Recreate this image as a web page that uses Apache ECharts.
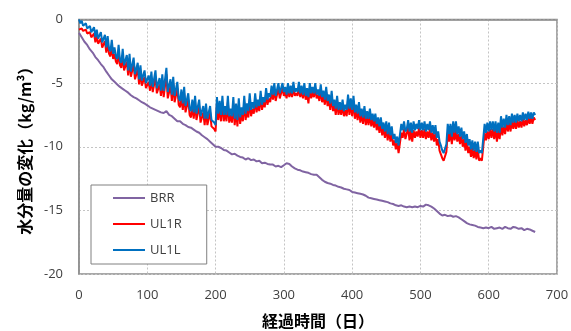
<!DOCTYPE html>
<html>
<head>
<meta charset="utf-8">
<script src="https://cdn.jsdelivr.net/npm/echarts@6/dist/echarts.min.js"></script>
<style>
  html, body { margin: 0; padding: 0; background: #fff; }
  #chart { width: 571px; height: 331px; }
</style>
</head>
<body>
<div id="chart"></div>
<script>
// Record spacing, in days
const brrStepDays = 4;
const ulStepDays = 2;

const seriesNames = ['BRR', 'UL1R', 'UL1L'];

// Change of moisture content (kg/m3) for BRR, one value every 4 days from day 0
const brr = [
  -1.05, -1.4, -1.75, -2.0, -2.35, -2.6, -2.95, -3.2, -3.5, -3.75,
  -4.1, -4.4, -4.7, -4.9, -5.1, -5.3, -5.45, -5.6, -5.75, -5.95,
  -6.1, -6.2, -6.35, -6.5, -6.6, -6.75, -6.9, -7.0, -7.1, -7.2,
  -7.3, -7.35, -7.2, -7.5, -7.6, -7.8, -8.0, -8.0, -8.2, -8.3,
  -8.45, -8.5, -8.65, -8.8, -8.9, -9.1, -9.25, -9.4, -9.6, -9.8,
  -10.0, -10.0, -10.1, -10.25, -10.3, -10.45, -10.6, -10.55, -10.7, -10.8,
  -10.85, -11.0, -10.9, -11.05, -11.0, -11.15, -11.1, -11.3, -11.25, -11.35,
  -11.4, -11.4, -11.55, -11.5, -11.6, -11.45, -11.3, -11.35, -11.55, -11.7,
  -11.8, -11.85, -11.95, -12.0, -12.05, -12.15, -12.2, -12.2, -12.4, -12.6,
  -12.75, -12.85, -12.9, -13.0, -13.05, -13.15, -13.2, -13.3, -13.35, -13.4,
  -13.55, -13.6, -13.65, -13.7, -13.75, -13.85, -14.0, -14.05, -14.1, -14.15,
  -14.2, -14.25, -14.3, -14.35, -14.45, -14.5, -14.6, -14.65, -14.6, -14.7,
  -14.75, -14.7, -14.75, -14.7, -14.75, -14.65, -14.7, -14.55, -14.6, -14.7,
  -14.85, -15.05, -15.25, -15.4, -15.35, -15.45, -15.4, -15.5, -15.45, -15.55,
  -15.7, -15.85, -16.0, -16.1, -16.15, -16.2, -16.3, -16.35, -16.4, -16.35,
  -16.4, -16.3, -16.45, -16.4, -16.35, -16.45, -16.3, -16.4, -16.45, -16.3,
  -16.35, -16.45, -16.4, -16.55, -16.45, -16.5, -16.6, -16.7
];

// UL1R, one value every 2 days from day 0 (four values per row = 8 days)
const ul1r = [
  -0.8, -0.8, -0.7, -0.9,   -1.0, -0.8, -1.1, -1.2,   -1.0, -1.4, -1.5, -1.1,
  -1.8, -1.3, -1.9, -2.0,   -1.5, -2.2, -2.3, -1.7,   -2.6, -1.8, -2.7, -2.9,
  -2.1, -3.1, -2.7, -3.3,   -3.5, -2.5, -3.6, -3.8,   -2.8, -4.0, -4.1, -3.3,
  -4.4, -3.2, -4.5, -4.6,   -3.5, -4.7, -4.8, -3.9,   -5.1, -4.1, -5.2, -5.3,
  -4.5, -5.4, -5.5, -4.9,   -5.6, -4.6, -5.7, -5.8,   -4.5, -5.8, -5.9, -5.1,
  -6.0, -4.8, -6.1, -6.2,   -4.3, -6.2, -6.3, -5.2,   -6.4, -5.0, -6.5, -6.6,
  -5.4, -6.7, -6.9, -6.0,   -7.1, -5.8, -7.3, -7.4,   -6.3, -7.5, -7.7, -6.8,
  -7.8, -6.5, -7.9, -8.0,   -6.8, -8.1, -8.2, -7.3,   -8.3, -7.1, -8.3, -8.4,
  -7.3, -8.4, -8.5, -8.6,   -8.8, -6.6, -7.9, -6.9,   -8.0, -6.5, -8.0, -7.3,
  -8.0, -6.5, -8.1, -7.5,   -8.1, -6.6, -8.3, -7.1,   -8.4, -6.7, -8.2, -7.4,
  -8.0, -6.5, -7.9, -7.1,   -7.7, -6.3, -7.6, -7.0,   -7.4, -6.2, -7.3, -6.7,
  -7.2, -6.0, -7.1, -6.5,   -6.9, -5.8, -6.7, -6.2,   -6.5, -5.6, -6.3, -5.5,
  -6.4, -6.5, -5.4, -6.2,   -6.1, -5.4, -6.0, -5.7,   -6.2, -5.4, -6.1, -5.6,
  -6.1, -5.3, -6.0, -5.8,   -6.0, -5.3, -6.1, -5.6,   -6.2, -5.4, -6.3, -5.8,
  -6.6, -5.4, -6.2, -5.7,   -6.1, -5.4, -6.2, -5.9,   -6.4, -5.5, -6.5, -6.0,
  -6.7, -5.7, -6.8, -6.3,   -7.1, -6.0, -7.2, -6.7,   -7.5, -6.4, -7.5, -6.9,
  -7.5, -6.7, -7.6, -7.1,   -7.6, -6.3, -7.5, -6.6,   -7.6, -6.4, -7.8, -7.1,
  -7.9, -6.9, -8.1, -7.4,   -8.2, -7.2, -8.3, -7.6,   -8.3, -7.4, -8.4, -7.8,
  -8.5, -7.8, -8.7, -8.1,   -8.9, -8.1, -9.1, -8.5,   -9.3, -8.5, -9.5, -8.6,
  -9.6, -8.9, -9.9, -9.5,   -10.2, -9.7, -10.5, -10.6, -8.9, -9.3, -8.6, -9.4,
  -9.3, -8.5, -9.5, -8.7,   -9.6, -8.7, -9.3, -8.8,   -9.2, -8.5, -9.3, -8.7,
  -9.3, -8.6, -9.4, -8.8,   -9.3, -8.6, -9.5, -8.9,   -9.6, -8.9, -9.9, -9.4,
  -10.3, -10.6, -10.9, -11.1, -11.2, -10.4, -8.9, -9.6, -8.8, -9.8, -8.7, -9.5,
  -8.7, -9.6, -9.0, -9.8,   -9.1, -10.0, -9.4, -10.3, -9.6, -10.5, -10.0, -10.8,
  -10.1, -10.9, -10.2, -11.0, -10.2, -11.1, -10.9, -11.1, -11.0, -8.9, -9.5, -8.8,
  -9.4, -8.6, -9.3, -8.6,   -9.4, -8.6, -9.6, -8.7,   -9.4, -8.2, -9.1, -8.4,
  -9.0, -8.0, -8.8, -8.1,   -8.8, -7.9, -8.6, -8.0,   -8.6, -7.9, -8.5, -8.0,
  -8.5, -7.8, -8.4, -7.9,   -8.3, -7.7, -8.2, -7.7,   -8.2, -7.7, -7.9
];

// UL1L, one value every 2 days from day 0 (four values per row = 8 days)
const ul1l = [
  0.0, -0.3, -0.1, -0.5,    -0.6, -0.3, -0.7, -0.8,   -0.5, -1.0, -1.1, -0.6,
  -1.4, -0.8, -1.5, -1.6,   -1.0, -1.8, -1.9, -1.2,   -2.2, -1.3, -2.3, -2.5,
  -1.6, -2.7, -2.2, -2.9,   -3.1, -2.0, -3.2, -3.4,   -2.3, -3.6, -3.7, -2.8,
  -4.0, -2.7, -4.1, -4.2,   -3.0, -4.3, -4.4, -3.4,   -4.7, -3.6, -4.8, -4.9,
  -4.0, -5.0, -5.1, -4.4,   -5.2, -4.1, -5.3, -5.3,   -4.0, -5.4, -5.5, -4.6,
  -5.6, -4.3, -5.6, -5.7,   -3.8, -5.7, -5.8, -4.7,   -5.9, -4.5, -6.0, -6.1,
  -4.9, -6.2, -6.4, -5.5,   -6.6, -5.3, -6.8, -6.9,   -5.8, -7.0, -7.2, -6.3,
  -7.3, -6.0, -7.4, -7.5,   -6.3, -7.6, -7.7, -6.8,   -7.8, -6.6, -7.8, -7.9,
  -6.8, -7.9, -8.0, -8.1,   -8.3, -6.1, -7.4, -6.4,   -7.5, -6.0, -7.5, -6.8,
  -7.5, -6.0, -7.6, -7.0,   -7.6, -6.1, -7.8, -6.6,   -7.9, -6.2, -7.7, -6.9,
  -7.5, -6.0, -7.4, -6.6,   -7.2, -5.8, -7.1, -6.5,   -7.0, -5.8, -6.9, -6.3,
  -6.8, -5.6, -6.7, -6.1,   -6.5, -5.4, -6.3, -5.8,   -6.1, -5.2, -5.9, -5.0,
  -6.0, -6.1, -5.0, -5.8,   -5.8, -5.0, -5.7, -5.3,   -5.9, -5.0, -5.8, -5.2,
  -5.8, -4.9, -5.7, -5.4,   -5.7, -4.9, -5.8, -5.2,   -5.9, -5.0, -6.0, -5.4,
  -6.1, -5.0, -5.8, -5.3,   -5.8, -5.0, -5.9, -5.5,   -6.0, -5.1, -6.1, -5.6,
  -6.3, -5.3, -6.4, -5.9,   -6.6, -5.6, -6.8, -6.3,   -7.0, -6.0, -7.1, -6.5,
  -7.1, -6.3, -7.2, -6.7,   -7.1, -5.9, -7.0, -6.2,   -7.1, -6.0, -7.3, -6.7,
  -7.4, -6.5, -7.6, -7.0,   -7.7, -6.8, -7.8, -7.2,   -7.8, -7.0, -7.9, -7.4,
  -8.0, -7.4, -8.2, -7.7,   -8.4, -7.7, -8.6, -8.1,   -8.8, -8.0, -9.0, -8.1,
  -9.1, -8.4, -9.4, -9.0,   -9.7, -9.2, -9.9, -9.8,   -8.2, -8.7, -8.0, -8.8,
  -8.6, -7.9, -8.8, -8.1,   -8.9, -8.0, -8.7, -8.2,   -8.6, -7.9, -8.7, -8.1,
  -8.7, -8.0, -8.8, -8.2,   -8.7, -8.0, -8.9, -8.3,   -9.0, -8.3, -9.3, -8.8,
  -9.6, -9.9, -10.3, -10.5, -10.5, -9.8, -8.2, -9.0,  -8.2, -9.2, -8.0, -8.9,
  -8.0, -9.0, -8.4, -9.2,   -8.5, -9.4, -8.8, -9.7,   -9.0, -9.9, -9.4, -10.2,
  -9.5, -10.3, -9.6, -10.4, -9.6, -10.5, -10.3, -10.5, -10.4, -8.2, -8.9, -8.1,
  -8.8, -8.0, -8.7, -8.0,   -8.8, -8.0, -8.9, -8.1,   -8.9, -7.6, -8.5, -7.8,
  -8.5, -7.5, -8.3, -7.6,   -8.3, -7.4, -8.1, -7.5,   -8.1, -7.4, -8.0, -7.5,
  -8.0, -7.3, -7.9, -7.4,   -7.9, -7.25, -7.8, -7.3,  -7.8, -7.3, -7.5
];

const seriesColors = ['#8064A2', '#FF0000', '#0070C0'];

function toPairs(values, step) {
  return values.map((v, i) => [i * step, v]);
}

const chart = echarts.init(document.getElementById('chart'), null, { renderer: 'canvas' });

const tickFont = { color: '#404040', fontSize: 13, fontFamily: 'Open Sans, Noto Sans, sans-serif' };
const nameFont = { color: '#000', fontSize: 16, fontWeight: 'bold', fontFamily: 'Noto Sans CJK JP, sans-serif' };
const gridLine = { show: true, lineStyle: { color: '#c4c4c4', type: [2, 2], width: 1 } };

chart.setOption({
  animation: false,
  backgroundColor: '#fff',
  grid: {
    left: 79, right: 14, top: 19.5, bottom: 57,
    outerBoundsMode: 'none',
    containLabel: false,
    show: true, borderColor: '#8c8c8c', borderWidth: 1.5, backgroundColor: 'transparent'
  },
  legend: {
    data: seriesNames,
    orient: 'vertical',
    left: 91, top: 185,
    padding: [5, 25, 6, 22],
    itemGap: 10,
    itemWidth: 32, itemHeight: 2,
    icon: 'rect',
    backgroundColor: '#fff',
    borderColor: '#808080', borderWidth: 1,
    textStyle: { color: '#404040', fontSize: 13, lineHeight: 16, fontFamily: 'Open Sans, Noto Sans, sans-serif' }
  },
  xAxis: {
    type: 'value', min: 0, max: 700, interval: 100,
    name: '経過時間（日）', nameLocation: 'middle', nameGap: 39, nameTextStyle: nameFont,
    axisLine: { show: true, lineStyle: { color: '#8c8c8c', width: 1.5 } },
    axisTick: { show: false },
    axisLabel: Object.assign({ margin: 15 }, tickFont),
    splitLine: gridLine
  },
  yAxis: {
    type: 'value', min: -20, max: 0, interval: 5,
    name: '水分量の変化（kg/m³）', nameLocation: 'middle', nameGap: 44, nameRotate: 90, nameTextStyle: nameFont,
    axisLine: { show: true, lineStyle: { color: '#8c8c8c', width: 1.5 } },
    axisTick: { show: false },
    axisLabel: Object.assign({ margin: 16 }, tickFont),
    splitLine: gridLine
  },
  series: [
    { vals: brr, step: brrStepDays },
    { vals: ul1r, step: ulStepDays },
    { vals: ul1l, step: ulStepDays }
  ].map((s, k) => ({
    name: seriesNames[k],
    type: 'line',
    data: toPairs(s.vals, s.step),
    showSymbol: false,
    symbol: 'none',
    lineStyle: { color: seriesColors[k], width: 2 },
    itemStyle: { color: seriesColors[k] },
    z: 2 + k
  }))
});
</script>
</body>
</html>
